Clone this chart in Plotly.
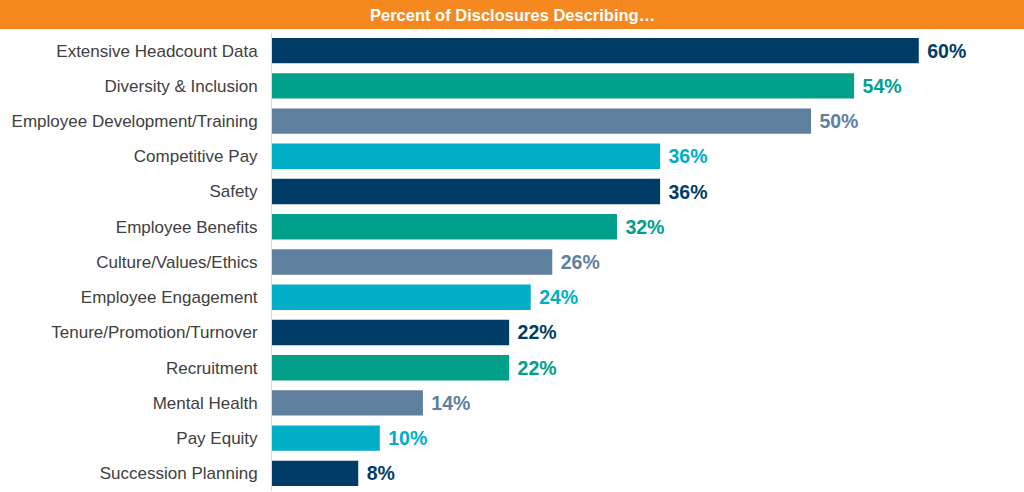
import plotly.graph_objects as go

categories = ["Extensive Headcount Data", "Diversity & Inclusion", "Employee Development/Training",
              "Competitive Pay", "Safety", "Employee Benefits", "Culture/Values/Ethics",
              "Employee Engagement", "Tenure/Promotion/Turnover", "Recruitment",
              "Mental Health", "Pay Equity", "Succession Planning"]
values = [60, 54, 50, 36, 36, 32, 26, 24, 22, 22, 14, 10, 8]
palette = ["#003D66", "#00A08B", "#5F7F9F", "#00AEC8"]
colors = [palette[i % 4] for i in range(len(values))]
title_text = "Percent of Disclosures Describing\u2026"

fig = go.Figure(go.Bar(
    x=values, y=categories, orientation="h",
    marker=dict(color=colors, line=dict(width=0)),
    text=[f" {v}%" for v in values],
    texttemplate="<b>%{text}</b>",
    textposition="outside",
    textfont=dict(color=colors, size=19.5, family="Arial, Liberation Sans, sans-serif"),
    cliponaxis=False,
    width=0.72,
    hoverinfo="skip",
))

W, H = 1024, 492
ml, mr, mt, mb = 272, 0, 33, 1
pw = W - ml - mr
ph = H - mt - mb

fig.update_layout(
    width=W, height=H,
    margin=dict(l=ml, r=mr, t=mt, b=mb),
    paper_bgcolor="white", plot_bgcolor="white",
    showlegend=False,
    xaxis=dict(range=[0, pw / 10.78], visible=False, fixedrange=True),
    yaxis=dict(autorange="reversed", showgrid=False, showline=True, linecolor="#D9D9D9",
               linewidth=1, ticks="", ticklabelstandoff=10, fixedrange=True,
               tickfont=dict(size=17, color="#404040", family="Arial, Liberation Sans, sans-serif")),
    shapes=[dict(type="rect", xref="paper", yref="paper",
                 x0=-ml / pw, x1=1, y0=1 + 4 / ph, y1=1 + mt / ph,
                 fillcolor="#F5891F", line=dict(width=0), layer="above")],
    annotations=[dict(text=f"<b>{title_text}</b>", xref="paper", yref="paper",
                      x=(512 - ml) / pw, y=1 + 18 / ph, xanchor="center", yanchor="middle",
                      showarrow=False,
                      font=dict(size=16.5, color="white", family="Arial, Liberation Sans, sans-serif"))],
)

fig.write_html("out.html", config={"displayModeBar": False, "staticPlot": True},
               post_script="document.body.style.margin='0';document.body.style.overflow='hidden';")
